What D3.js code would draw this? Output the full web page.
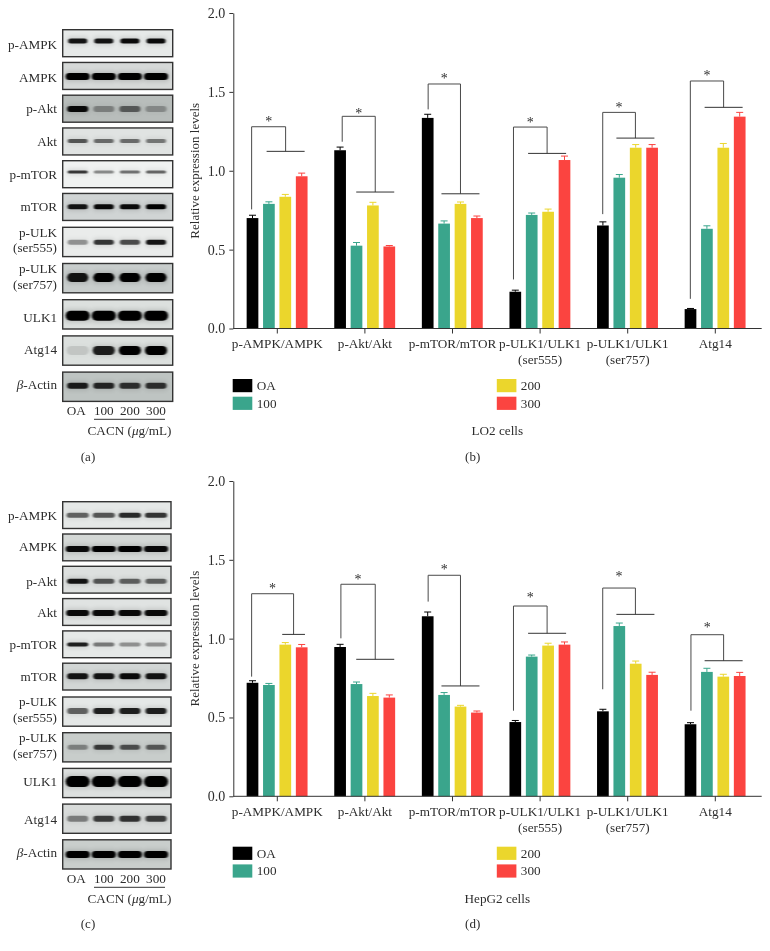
<!DOCTYPE html>
<html><head><meta charset="utf-8">
<script src="https://cdnjs.cloudflare.com/ajax/libs/d3/7.8.5/d3.min.js"></script>
<style>
html,body{margin:0;padding:0;background:#fff}
svg{display:block}
text{font-family:"Liberation Serif",serif;fill:#2b2b2b;opacity:.99}
</style></head><body><svg id="c" width="770" height="951"></svg>
<script>
// ---------- data ----------
const groups = ["p-AMPK/AMPK","p-Akt/Akt","p-mTOR/mTOR","p-ULK1/ULK1|(ser555)","p-ULK1/ULK1|(ser757)","Atg14"];
const series = ["OA","100","200","300"];
const seriesColors = ["#000000","#3aa58c","#ebd62c","#fb4440"];
const yTicks = [0,0.5,1,1.5,2];

const lo2Values = [[.70,.79,.835,.965],[1.13,.525,.78,.52],[1.335,.665,.79,.70],[.233,.72,.74,1.068],[.653,.956,1.146,1.146],[.123,.632,1.146,1.343]];
const lo2Errors = [[.018,.013,.015,.02],[.02,.02,.02,.006],[.023,.017,.012,.013],[.01,.012,.017,.025],[.023,.02,.02,.02],[.004,.019,.027,.027]];
const lo2BracketBase = [.755,1.184,1.389,.311,.725,.188];
const lo2BracketTop = [1.279,1.345,1.55,1.277,1.37,1.569];
const lo2BranchLevel = [1.123,.865,.854,1.11,1.207,1.402];
const lo2StarLevel = [1.326,1.38,1.596,1.32,1.414,1.615];
const lo2BracketLeft = [-.293,.741,1.722,2.696,3.715,4.715];
const lo2BracketRight = [.095,1.118,2.091,3.08,4.088,5.095];
const lo2BranchHalf = [.217,.217,.217,.217,.217,.217];

const hepValues = [[.72,.706,.962,.945],[.947,.712,.636,.626],[1.142,.643,.569,.531],[.471,.886,.956,.962],[.539,1.08,.841,.77],[.457,.789,.759,.763]];
const hepErrors = [[.013,.01,.013,.018],[.017,.013,.017,.017],[.027,.015,.008,.01],[.01,.01,.015,.017],[.013,.019,.017,.017],[.01,.023,.015,.023]];
const hepBracketBase = [.759,1.002,1.235,.543,.679,.543];
const hepBracketTop = [1.285,1.345,1.402,1.207,1.321,1.025];
const hepBranchLevel = [1.027,.869,.70,1.034,1.154,.86];
const hepStarLevel = [1.33,1.389,1.45,1.275,1.408,1.087];
const hepBracketLeft = [-.293,.726,1.722,2.696,3.715,4.722];
const hepBracketRight = [.186,1.118,2.091,3.08,4.088,5.095];
const hepBranchHalf = [.13,.217,.217,.217,.217,.217];

const blotLabels = ["p-AMPK","AMPK","p-Akt","Akt","p-mTOR","mTOR","p-ULK|(ser555)","p-ULK|(ser757)","ULK1","Atg14","ACTIN"];
const blotLanes = ["OA","100","200","300"];
const blotDensityA = [[.9,.9,.95,.95],[1,1,1,1],[.95,.3,.5,.25],[.6,.5,.5,.45],[.75,.4,.5,.55],[.9,.95,.95,1],[.35,.75,.65,.9],[.9,1,1,1],[1,1,1,1],[.1,.85,1,1],[.85,.8,.75,.75]];
const blotThickA = [5,7,6,4,3,5,5,9,10,9,6];
const blotWidthA = [19,24,21,20,20,20,20,21,24,22,21];
const blotBgA = ["#e6e9e8","#d6d9d8","#b8bdbb","#e0e3e2","#f0f2f1","#d0d4d4","#eaeceb","#c8cdcc","#dce0de","#dce0de","#bec4c2"];
const blotBandA = [.42,.52,.51,.48,.42,.49,.51,.48,.55,.5,.47];
const blotLabelShiftA = [6,5.7,4.4,4.5,5.2,3.7,-5.3,-5.3,7.7,3.7,2.7];
const blotDensityC = [[.55,.6,.8,.75],[.95,1,1,.95],[.9,.6,.55,.55],[.95,.95,.95,.95],[.85,.45,.35,.35],[.9,.9,.95,.9],[.55,.85,.85,.85],[.35,.7,.6,.55],[1,1,1,1],[.4,.7,.75,.7],[1,1,1,1]];
const blotThickC = [5,6,5,6,4,6,6,5,11,6,7];
const blotWidthC = [22,24,21,23,21,21,21,20,24,21,24];
const blotBgC = ["#e5e8e7","#d4d8d6","#dde0df","#e0e3e2","#e6e9e8","#d2d6d5","#e5e8e7","#c8cdcb","#dde0df","#d8dbda","#c9cecc"];
const blotBandC = [.51,.56,.56,.54,.51,.49,.48,.5,.45,.5,.5];
const blotLabelShiftC = [5,4,6,5,4.5,4.2,-5.3,-5.3,2.7,5,2.7];

// ---------- drawing ----------
const svg = d3.select("#c");
const defs = svg.append("defs");
defs.append("filter").attr("id","b1").attr("x","-30%").attr("y","-100%").attr("width","160%").attr("height","300%")
  .append("feGaussianBlur").attr("stdDeviation","1.1 0.7");
defs.append("filter").attr("id","b2").attr("x","-30%").attr("y","-200%").attr("width","160%").attr("height","500%")
  .append("feGaussianBlur").attr("stdDeviation","2 2.5");

function drawBlot(id, cfg){
  const g = svg.append("g");
  const x = d3.scalePoint().domain(blotLanes).range([77.7,156]);
  const rowY = i => i < 6 ? cfg.top1 + i*cfg.pitch1 : cfg.top2 + (i-6)*cfg.pitch2;
  const rowH = i => i < 6 ? cfg.h1 : cfg.h2;
  const panelW = cfg.right - 62.7;
  blotLabels.forEach((lab,i)=>{
    const y0 = rowY(i), h = rowH(i);
    const clip = `${id}-clip-${i}`;
    defs.append("clipPath").attr("id",clip).append("rect").attr("x",62.7).attr("y",y0).attr("width",panelW).attr("height",h);
    const p = g.append("g").attr("clip-path",`url(#${clip})`);
    p.append("rect").attr("x",62.7).attr("y",y0).attr("width",panelW).attr("height",h).attr("fill",cfg.bg[i]);
    const cy = y0 + h*cfg.band[i], t = cfg.thick[i], w = cfg.width[i];
    p.selectAll("rect.halo").data(cfg.density[i]).join("rect").attr("class","halo")
      .attr("x",(d,j)=>x(blotLanes[j])-w/2-1).attr("width",w+2).attr("y",cy-t/2-1).attr("height",t+2).attr("rx",3)
      .attr("fill","#000").attr("opacity",d=>d*.16).attr("filter","url(#b2)");
    p.selectAll("rect.band").data(cfg.density[i]).join("rect").attr("class","band")
      .attr("x",(d,j)=>x(blotLanes[j])-w/2).attr("width",w).attr("y",cy-t/2).attr("height",t).attr("rx",t/2)
      .attr("fill","#050505").attr("opacity",d=>d).attr("filter","url(#b1)");
    g.append("rect").attr("x",62.7).attr("y",y0).attr("width",panelW).attr("height",h)
      .attr("fill","none").attr("stroke","#333").attr("stroke-width",1.4);
    const lines = lab.split("|");
    const base = y0 + h/2 + cfg.shift[i];
    if(lab === "ACTIN"){
      const t = g.append("text").attr("x",57).attr("y",base).attr("text-anchor","end").attr("font-size",13.2);
      t.append("tspan").attr("font-style","italic").text("β");
      t.append("tspan").text("-Actin");
    } else {
      lines.forEach((ln,k)=>{
        g.append("text").attr("x",57).attr("y",base+k*15.7).attr("text-anchor","end")
          .attr("font-size",13.2).text(ln);
      });
    }
  });
  g.selectAll("text.lane").data(blotLanes).join("text").attr("class","lane")
    .attr("x",d=>x(d)-(d==="OA"?1.5:0)).attr("y",cfg.laneY).attr("text-anchor","middle").attr("font-size",13.2).text(d=>d);
  g.append("line").attr("x1",94).attr("x2",165).attr("y1",cfg.laneY+4.3).attr("y2",cfg.laneY+4.3).attr("stroke","#333").attr("stroke-width",1);
  const c = g.append("text").attr("x",171.5).attr("y",cfg.laneY+20).attr("text-anchor","end").attr("font-size",13.2);
  c.append("tspan").text("CACN (");
  c.append("tspan").attr("font-style","italic").text("μ");
  c.append("tspan").text("g/mL)");
  g.append("text").attr("x",88).attr("y",cfg.capY).attr("text-anchor","middle").attr("font-size",13).text(cfg.cap);
}

drawBlot("a",{top1:29.7,pitch1:32.75,h1:27,top2:227.3,pitch2:36.2,h2:29.3,right:172.7,laneY:415,capY:461,cap:"(a)",
  density:blotDensityA,thick:blotThickA,width:blotWidthA,bg:blotBgA,band:blotBandA,shift:blotLabelShiftA});
drawBlot("c",{top1:501.7,pitch1:32.3,h1:26.8,top2:697,pitch2:35.7,h2:29.2,right:171,laneY:883,capY:928,cap:"(c)",
  density:blotDensityC,thick:blotThickC,width:blotWidthC,bg:blotBgC,band:blotBandC,shift:blotLabelShiftC});

function drawChart(cfg){
  const g = svg.append("g");
  const y = d3.scaleLinear().domain([0,2]).range([cfg.y0,cfg.y2]);
  const x0 = d3.scaleBand().domain(groups).range([233.5,759.1]);
  const xi = d3.scalePoint().domain(series).range([19,68.2]);
  const bx = d3.scaleLinear().domain([0,1]).range([277.3,364.9]);
  const colour = d3.scaleOrdinal().domain(series).range(seriesColors);
  const barW = 11.7;

  const rows = groups.flatMap((gr,i)=>series.map((s,j)=>({gr,s,v:cfg.values[i][j],e:cfg.errors[i][j]})));
  const cx = d => x0(d.gr)+xi(d.s);
  g.selectAll("line.err").data(rows).join("line").attr("class","err")
    .attr("x1",cx).attr("x2",cx).attr("y1",d=>y(d.v)).attr("y2",d=>y(d.v+d.e))
    .attr("stroke",d=>colour(d.s)).attr("stroke-width",1);
  g.selectAll("line.cap").data(rows).join("line").attr("class","cap")
    .attr("x1",d=>cx(d)-3.5).attr("x2",d=>cx(d)+3.5).attr("y1",d=>y(d.v+d.e)).attr("y2",d=>y(d.v+d.e))
    .attr("stroke",d=>colour(d.s)).attr("stroke-width",1);
  g.selectAll("rect.bar").data(rows).join("rect").attr("class","bar")
    .attr("x",d=>cx(d)-barW/2).attr("width",barW).attr("y",d=>y(d.v)).attr("height",d=>y(0)-y(d.v))
    .attr("fill",d=>colour(d.s));

  // axes
  const ya = g.append("g").attr("transform","translate(233.3,0)")
    .call(d3.axisLeft(y).tickValues(yTicks).tickFormat(d3.format(".1f")).tickSize(4).tickSizeOuter(0));
  ya.selectAll("path,line").attr("stroke","#333").attr("stroke-width",1);
  ya.selectAll("text").attr("font-size",14).attr("x",-8).style("font-family",'"Liberation Serif",serif').attr("fill","#2b2b2b");
  const xa = g.append("g").attr("transform",`translate(0,${cfg.y0})`)
    .call(d3.axisBottom(x0).tickSize(5).tickSizeOuter(0).tickFormat(""));
  xa.select("path").remove();
  xa.selectAll("line").attr("stroke","#333").attr("stroke-width",1);
  g.append("line").attr("x1",233.3).attr("x2",761.7).attr("y1",cfg.y0).attr("y2",cfg.y0).attr("stroke","#333").attr("stroke-width",1);
  groups.forEach(gr=>{
    gr.split("|").forEach((ln,k)=>{
      g.append("text").attr("x",x0(gr)+x0.bandwidth()/2).attr("y",cfg.y0+19.5+k*16.2)
        .attr("text-anchor","middle").attr("font-size",13.2).text(ln);
    });
  });
  g.append("text").attr("transform",`translate(199,${(y(0)+y(2))/2}) rotate(-90)`)
    .attr("text-anchor","middle").attr("font-size",13).text("Relative expression levels");

  // brackets
  groups.forEach((gr,i)=>{
    const l = bx(cfg.left[i]), r = bx(cfg.right[i]), h = bx(cfg.right[i]+cfg.half[i])-r;
    g.append("path").attr("fill","none").attr("stroke","#4a4a4a").attr("stroke-width",1)
      .attr("d",`M${l},${y(cfg.base[i])}V${y(cfg.top[i])}H${r}V${y(cfg.branch[i])}`);
    g.append("line").attr("x1",r-h).attr("x2",r+h).attr("y1",y(cfg.branch[i])).attr("y2",y(cfg.branch[i]))
      .attr("stroke","#333").attr("stroke-width",1);
    g.append("text").attr("x",(l+r)/2).attr("y",y(cfg.star[i])+6.7).attr("text-anchor","middle").attr("font-size",14).text("*");
  });

  // legend
  const ly = cfg.legendY;
  const lx = d3.scaleOrdinal().domain(series).range([232.7,232.7,496.8,496.8]);
  const lr = d3.scaleOrdinal().domain(series).range([0,1,0,1]);
  const lg = g.selectAll("g.leg").data(series).join("g").attr("class","leg");
  lg.append("rect").attr("x",d=>lx(d)).attr("y",d=>ly+lr(d)*17.7).attr("width",19.6).attr("height",13.2).attr("fill",d=>colour(d));
  lg.append("text").attr("x",d=>lx(d)+24).attr("y",d=>ly+lr(d)*17.7+11).attr("font-size",13.2).text(d=>d);
  g.append("text").attr("x",497.3).attr("y",cfg.titleY).attr("text-anchor","middle").attr("font-size",13.2).text(cfg.title);
  g.append("text").attr("x",472.7).attr("y",cfg.capY).attr("text-anchor","middle").attr("font-size",13).text(cfg.cap);
}

drawChart({y0:328.5,y2:13,values:lo2Values,errors:lo2Errors,base:lo2BracketBase,top:lo2BracketTop,branch:lo2BranchLevel,star:lo2StarLevel,
  left:lo2BracketLeft,right:lo2BracketRight,half:lo2BranchHalf,legendY:379,title:"LO2 cells",titleY:435,capY:461,cap:"(b)"});
drawChart({y0:796.3,y2:481,values:hepValues,errors:hepErrors,base:hepBracketBase,top:hepBracketTop,branch:hepBranchLevel,star:hepStarLevel,
  left:hepBracketLeft,right:hepBracketRight,half:hepBranchHalf,legendY:846.7,title:"HepG2 cells",titleY:903,capY:928,cap:"(d)"});
</script></body></html>
